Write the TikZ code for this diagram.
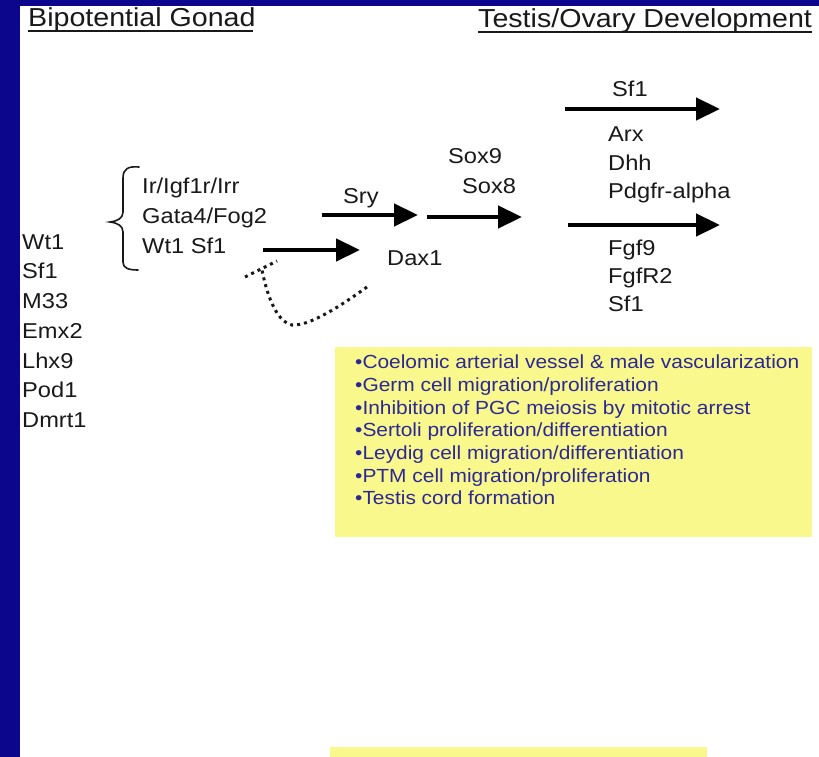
\documentclass[tikz,border=0pt]{standalone}
\usepackage{fontspec}
\setmainfont{Liberation Sans}[FakeStretch=1.1]
\usetikzlibrary{arrows.meta}
\definecolor{slideblue}{RGB}{12,6,140}
\definecolor{boxyellow}{RGB}{248,248,140}
\definecolor{boxtext}{RGB}{45,40,150}
\definecolor{ink}{RGB}{25,25,25}
\begin{document}
\begin{tikzpicture}[x=1pt,y=-1pt,
  lbl/.style={anchor=base west, inner sep=0pt, text=ink, font=\fontsize{21.5}{24}\selectfont},
  ttl/.style={anchor=base west, inner sep=0pt, text=ink, font=\fontsize{26}{28}\selectfont},
  boxline/.style={anchor=base west, inner sep=0pt, text=boxtext, font=\fontsize{19}{22}\selectfont},
  bigarrow/.style={line width=4.5pt, draw=black, -{Triangle[length=24pt,width=22pt]}},
  dotline/.style={line width=3pt, draw=ink, dash pattern=on 3pt off 4pt}]
\useasboundingbox (0,0) rectangle (819,757);
\fill[white] (0,0) rectangle (819,757);
% slide frame
\fill[slideblue] (0,0) rectangle (819,6);
\fill[slideblue] (0,0) rectangle (20,757);
% titles
\node[ttl] (t1) at (28,27) {Bipotential Gonad};
\draw[line width=2pt, ink] (28,31) -- (253,31);
\node[ttl] (t2) at (478,28) {Testis/Ovary Development};
\draw[line width=2pt, ink] (478,32) -- (812,32);
% left list
\node[lbl] (l1) at (22,249) {Wt1};
\node[lbl] (l2) at (22,278.5) {Sf1};
\node[lbl] (l3) at (22,308) {M33};
\node[lbl] (l4) at (22,338) {Emx2};
\node[lbl] (l5) at (22,368) {Lhx9};
\node[lbl] (l6) at (22,397) {Pod1};
\node[lbl] (l7) at (22,427) {Dmrt1};
% brace group
\draw[line width=1.6pt, ink, line cap=round]
  (139,167) .. controls (128,166) and (123,169) .. (123,178) -- (123,212)
  .. controls (123,218) and (118,221) .. (110,222)
  .. controls (118,223) and (123,226) .. (123,232) -- (123,262)
  .. controls (123,268) and (128,270) .. (138,270);
\node[lbl] (g1) at (142,193) {Ir/Igf1r/Irr};
\node[lbl] (g2) at (142,223) {Gata4/Fog2};
\node[lbl] (g3) at (142,253) {Wt1 Sf1};
% middle labels
\node[lbl] (sry) at (343,203) {Sry};
\node[lbl] (dax) at (387,265) {Dax1};
\node[lbl] (sox9) at (448,163) {Sox9};
\node[lbl] (sox8) at (462,193) {Sox8};
% right labels
\node[lbl] (rsf1) at (612,97) {Sf1};
\node[lbl] (arx) at (608,142) {Arx};
\node[lbl] (dhh) at (608,170) {Dhh};
\node[lbl] (pdg) at (608,198) {Pdgfr-alpha};
\node[lbl] (fgf9) at (608,255) {Fgf9};
\node[lbl] (fgfr) at (608,283) {FgfR2};
\node[lbl] (bsf1) at (608,311) {Sf1};
% arrow end points
\coordinate (a1s) at (263,250); \coordinate (a1e) at (360,250);
\coordinate (a2s) at (322,215); \coordinate (a2e) at (418,215);
\coordinate (a3s) at (427,217); \coordinate (a3e) at (522,217);
\coordinate (a4s) at (565,109); \coordinate (a4e) at (720,109);
\coordinate (a5s) at (568,225); \coordinate (a5e) at (720,225);
\draw[bigarrow] (a1s) -- (a1e);
\draw[bigarrow] (a2s) -- (a2e);
\draw[bigarrow] (a3s) -- (a3e);
\draw[bigarrow] (a4s) -- (a4e);
\draw[bigarrow] (a5s) -- (a5e);
% dotted inhibition
\coordinate (ds) at (367,287);
\coordinate (de) at (262,270);
\coordinate (bar1) at (245,277);
\coordinate (bar2) at (277,261);
\draw[dotline] (ds) .. controls (335,310) and (308,326) .. (292,325)
  .. controls (278,322) and (268,300) .. (de);
\draw[dotline] (bar1) -- (bar2);
% yellow box
\fill[boxyellow] (335,347) rectangle (812,537);
\node[boxline] (b1) at (355,368) {•Coelomic arterial vessel \& male vascularization};
\node[boxline] (b2) at (355,391) {•Germ cell migration/proliferation};
\node[boxline] (b3) at (355,414) {•Inhibition of PGC meiosis by mitotic arrest};
\node[boxline] (b4) at (355,436) {•Sertoli proliferation/differentiation};
\node[boxline] (b5) at (355,459) {•Leydig cell migration/differentiation};
\node[boxline] (b6) at (355,482) {•PTM cell migration/proliferation};
\node[boxline] (b7) at (355,504) {•Testis cord formation};
% bottom strip
\fill[boxyellow] (330,747) rectangle (707,757);
\end{tikzpicture}
\end{document}
